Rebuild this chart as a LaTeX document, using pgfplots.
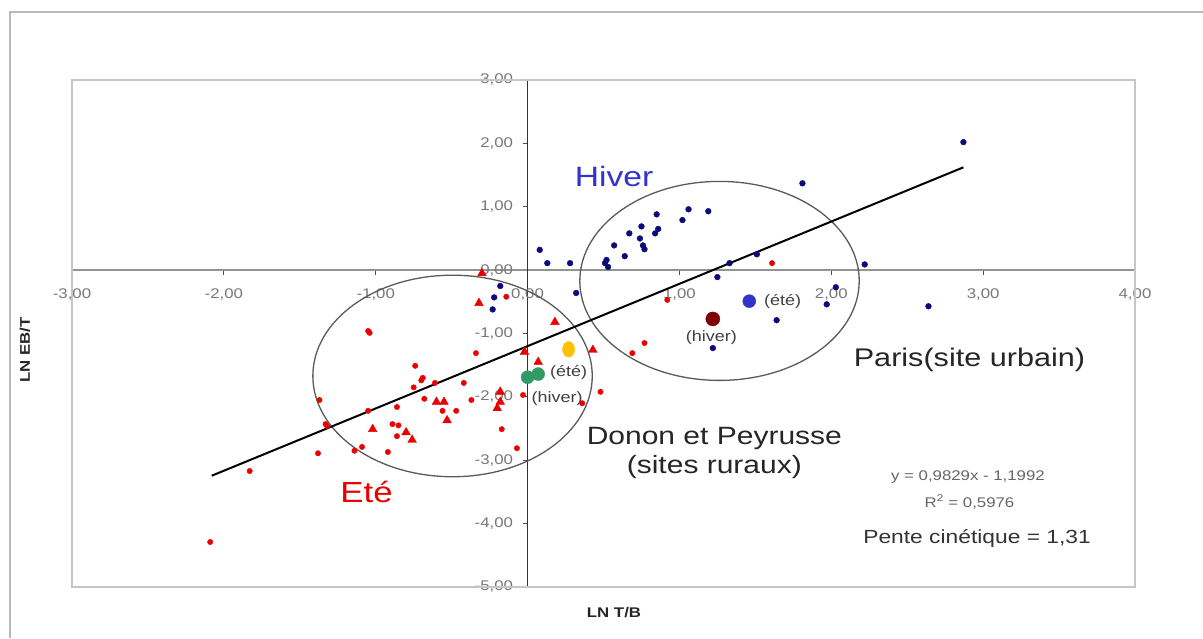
\documentclass[border=0pt]{standalone}
\usepackage{fontspec}
\setmainfont{Liberation Sans}[FakeStretch=1.2]
\usepackage{pgfplots}
\pgfplotsset{compat=1.18}
\definecolor{navyd}{RGB}{10,10,120}
\definecolor{hiverblue}{RGB}{51,51,204}
\definecolor{ptred}{RGB}{235,0,0}
\definecolor{darkred}{RGB}{128,0,0}
\definecolor{gold}{RGB}{255,192,0}
\definecolor{sgreen}{RGB}{51,153,102}
\definecolor{ellgray}{RGB}{90,90,90}
\definecolor{tickgray}{RGB}{120,120,120}
\begin{document}
\begin{tikzpicture}
\useasboundingbox (0,0) rectangle (1203pt,638pt);
\fill[white] (0,0) rectangle (1203pt,638pt);
\draw[gray!55, line width=2pt] (10pt,0) -- (10pt,626pt) -- (1203pt,626pt);
\begin{axis}[
  at={(72pt,51pt)}, anchor=south west,
  scale only axis, width=1063pt, height=507pt,
  xmin=-3, xmax=4, ymin=-5, ymax=3,
  axis lines=middle,
  x axis line style={-, gray!85, line width=2.4pt},
  y axis line style={-, black!80, line width=1.3pt},
  xtick={-3,-2,-1,0,1,2,3,4},
  ytick={-5,-4,-3,-2,-1,0,1,2,3},
  hide obscured x ticks=false, hide obscured y ticks=false,
  tick align=outside, major tick length=5pt,
  tick style={black!70, line width=0.9pt},
  /pgf/number format/assume math mode=true,
  /pgf/number format/.cd, fixed, fixed zerofill, precision=2, use comma,
  /pgfplots/.cd,
  xticklabel style={font=\fontsize{14}{16}\selectfont, text=tickgray, yshift=-10pt},
  yticklabel style={font=\fontsize{14}{16}\selectfont, text=tickgray, xshift=-6pt},
  clip=false,
]
\draw[gray!45, line width=1.6pt] (rel axis cs:0,0) rectangle (rel axis cs:1,1);
% ellipses
\draw[ellgray, line width=1.3pt] (axis cs:1.264,-0.17) ellipse [x radius=0.92, y radius=1.57];
\draw[ellgray, line width=1.3pt] (axis cs:-0.494,-1.67) ellipse [x radius=0.92, y radius=1.59];
% trendline
\addplot[black, line width=2pt] coordinates {(-2.08,-3.244) (2.87,1.622)};
% blue winter dots
\addplot[only marks, mark=*, mark size=2.9pt, mark options={fill=navyd, draw=navyd}] table {
x y
2.87 2.02
1.81 1.37
0.08 0.32
0.13 0.11
0.28 0.11
0.32 -0.36
0.51 0.11
0.52 0.16
0.53 0.05
0.57 0.39
0.64 0.22
0.67 0.58
0.75 0.69
0.74 0.50
0.76 0.39
0.77 0.33
0.85 0.88
0.84 0.58
0.86 0.65
1.02 0.79
1.06 0.96
1.19 0.93
1.25 -0.11
1.33 0.11
1.51 0.25
2.22 0.09
2.03 -0.27
1.97 -0.54
1.64 -0.79
2.64 -0.57
1.22 -1.23
-0.18 -0.25
-0.22 -0.43
-0.23 -0.62
};
% red summer dots
\addplot[only marks, mark=*, mark size=2.7pt, mark options={fill=ptred, draw=ptred}] table {
x y
-2.09 -4.29
-1.83 -3.17
-1.05 -0.96
-1.04 -0.99
-0.74 -1.51
-0.69 -1.70
-1.37 -2.05
-1.05 -2.22
-1.33 -2.43
-1.32 -2.46
-1.38 -2.89
-1.14 -2.85
-1.09 -2.79
-0.92 -2.87
-0.86 -2.16
-0.75 -1.85
-0.70 -1.74
-0.61 -1.78
-0.68 -2.03
-0.89 -2.43
-0.85 -2.45
-0.86 -2.62
-0.56 -2.22
-0.42 -1.78
-0.37 -2.05
-0.47 -2.22
-0.17 -2.51
-0.07 -2.81
-0.03 -1.97
0.36 -2.10
0.48 -1.92
-0.14 -0.42
-0.34 -1.31
0.69 -1.31
0.77 -1.15
1.61 0.11
0.92 -0.47
};
% red triangles
\addplot[only marks, mark=triangle*, mark size=5pt, mark options={fill=ptred, draw=ptred}] table {
x y
-0.30 -0.05
-0.32 -0.52
0.18 -0.82
-0.02 -1.29
0.07 -1.45
0.43 -1.26
-0.18 -1.92
-0.18 -2.08
-0.20 -2.18
-0.60 -2.08
-0.55 -2.08
-0.53 -2.37
-1.02 -2.51
-0.80 -2.56
-0.76 -2.68
};
% Paris summer / winter means
\addplot[only marks, mark=*, mark size=6.5pt, mark options={fill=hiverblue, draw=hiverblue}] coordinates {(1.46,-0.49)};
\addplot[only marks, mark=*, mark size=7pt, mark options={fill=darkred, draw=darkred}] coordinates {(1.22,-0.77)};
% rural means
\addplot[only marks, mark=*, mark size=6pt, mark options={fill=gold, draw=gold, yscale=1.3}] coordinates {(0.27,-1.25)};
\addplot[only marks, mark=*, mark size=6.5pt, mark options={fill=sgreen, draw=sgreen}] coordinates {(0.00,-1.69) (0.07,-1.64)};
% annotations
\node[text=hiverblue, font=\fontsize{28}{32}\selectfont] at (axis cs:0.57,1.47) {Hiver};
\node[text=ptred, font=\fontsize{29}{32}\selectfont] at (axis cs:-1.06,-3.50) {Eté};
\node[align=center, font=\fontsize{25}{29}\selectfont, text=black!85] at (axis cs:1.23,-2.88) {Donon et Peyrusse\\(sites ruraux)};
\node[font=\fontsize{25.5}{29}\selectfont, text=black!85] at (axis cs:2.91,-1.42) {Paris(site urbain)};
\node[font=\fontsize{14}{16}\selectfont, text=black!60] at (axis cs:2.90,-3.27) {y = 0,9829x - 1,1992};
\node[font=\fontsize{14}{16}\selectfont, text=black!60] at (axis cs:2.91,-3.66) {R\textsuperscript{2} = 0,5976};
\node[font=\fontsize{19}{22}\selectfont, text=black!80] at (axis cs:2.96,-4.23) {Pente cinétique = 1,31};
\node[font=\fontsize{15}{17}\selectfont, text=black!75] at (axis cs:1.68,-0.50) {(été)};
\node[font=\fontsize{15}{17}\selectfont, text=black!75] at (axis cs:1.21,-1.06) {(hiver)};
\node[font=\fontsize{15}{17}\selectfont, text=black!75] at (axis cs:0.27,-1.61) {(été)};
\node[font=\fontsize{15}{17}\selectfont, text=black!75] at (axis cs:0.195,-2.02) {(hiver)};
\end{axis}
\node[font=\bfseries\fontsize{14}{16}\selectfont, text=black!85] at (614pt,25pt) {LN T/B};
\node[font=\bfseries\fontsize{14}{16}\selectfont, text=black!85, rotate=90] at (25pt,288pt) {LN EB/T};
\end{tikzpicture}
\end{document}
